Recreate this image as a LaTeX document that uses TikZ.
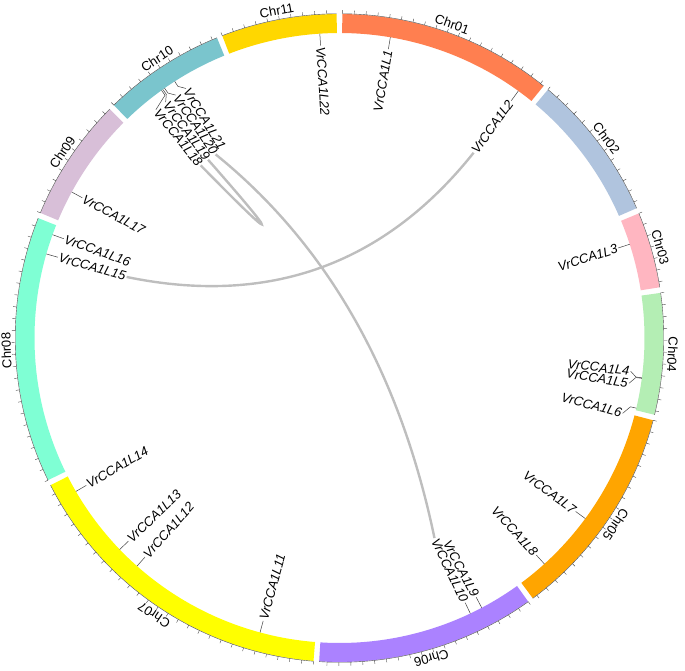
\documentclass[tikz,border=0pt]{standalone}
\usepackage{fontspec}
\setmainfont{Liberation Sans}
\usetikzlibrary{calc}
\definecolor{c01}{HTML}{FF7F50}
\definecolor{c02}{HTML}{B0C4DE}
\definecolor{c03}{HTML}{FFB6C1}
\definecolor{c04}{HTML}{B4EEB4}
\definecolor{c05}{HTML}{FFA500}
\definecolor{c06}{HTML}{AB82FF}
\definecolor{c07}{HTML}{FFFF00}
\definecolor{c08}{HTML}{7FFFD4}
\definecolor{c09}{HTML}{D8BFD8}
\definecolor{c10}{HTML}{7AC5CD}
\definecolor{c11}{HTML}{FFD700}
\definecolor{linkgray}{HTML}{BEBEBE}
\tikzset{
  chrlabel/.style={font=\fontsize{13}{15}\selectfont, inner sep=0pt, anchor=south},
  genelabel/.style={font=\fontsize{13}{15}\selectfont\itshape, inner sep=1pt},
  genetick/.style={draw=black!75, line width=0.5pt},
  ticks/.style={draw=black!70, line width=0.4pt},
  link/.style={draw=linkgray, line width=2.4pt},
}
\newcommand\chrom[5]{%
  \fill[#4] ({90-#2}:305pt) arc[start angle={90-#2}, end angle={90-#3}, radius=305pt]
    -- ({90-#3}:324pt) arc[start angle={90-#3}, end angle={90-#2}, radius=324pt] -- cycle;
  \draw[ticks] ({90-#2}:324.3pt) arc[start angle={90-#2}, end angle={90-#3}, radius=324.3pt];
  \pgfmathsetmacro\tnext{#2+2.1}
  \foreach \t in {#2,\tnext,...,#3} \draw[ticks] ({90-\t}:324.3pt) -- ({90-\t}:327.8pt);
  \pgfmathsetmacro\cmid{(#2+#3)/2}
  \node[chrlabel, rotate={-\cmid}] (#1) at ({90-\cmid}:328.5pt) {#5};
}
\newcommand\generight[4]{%
  \node[genelabel, anchor=east, rotate={90-#3}] (#1) at ({90-#3}:293pt) {#4};
  \coordinate (#1g) at ({90-#2}:305pt);
  \draw[genetick] (#1g) -- ({90-#2}:299pt) -- (#1.east);
}
\newcommand\geneleft[4]{%
  \node[genelabel, anchor=west, rotate={270-#3}] (#1) at ({90-#3}:293pt) {#4};
  \coordinate (#1g) at ({90-#2}:305pt);
  \draw[genetick] (#1g) -- ({90-#2}:299pt) -- (#1.west);
}
\begin{document}
\begin{tikzpicture}[x=1pt,y=1pt]
\useasboundingbox (-339.5,-332) rectangle (345.5,338);
\chrom{Chr01}{0.5}{39}{c01}{Chr01}
\chrom{Chr02}{40}{66.4}{c02}{Chr02}
\chrom{Chr03}{67.4}{81}{c03}{Chr03}
\chrom{Chr04}{82}{103.7}{c04}{Chr04}
\chrom{Chr05}{104.7}{143.4}{c05}{Chr05}
\chrom{Chr06}{144.4}{183.6}{c06}{Chr06}
\chrom{Chr07}{184.6}{243}{c07}{Chr07}
\chrom{Chr08}{244}{291.7}{c08}{Chr08}
\chrom{Chr09}{292.7}{314.9}{c09}{Chr09}
\chrom{Chr10}{315.9}{337.8}{c10}{Chr10}
\chrom{Chr11}{338.8}{359.5}{c11}{Chr11}
% genes
\generight{L1}{9.6}{9.6}{VrCCA1L1}
\generight{L2}{35.9}{35.9}{VrCCA1L2}
\generight{L3}{72.1}{72.1}{VrCCA1L3}
\generight{L4}{97.5}{96.5}{VrCCA1L4}
\generight{L5}{97.6}{98.9}{VrCCA1L5}
\generight{L6}{103.3}{104.9}{VrCCA1L6}
\generight{L7}{126.3}{126.3}{VrCCA1L7}
\generight{L8}{137.8}{137.8}{VrCCA1L8}
\generight{L9}{152.2}{152.2}{VrCCA1L9}
\generight{L10}{154.6}{154.6}{VrCCA1L10}
\geneleft{L11}{195.1}{195.1}{VrCCA1L11}
\geneleft{L12}{221.6}{221.6}{VrCCA1L12}
\geneleft{L13}{226.1}{226.1}{VrCCA1L13}
\geneleft{L14}{239.8}{239.8}{VrCCA1L14}
\geneleft{L15}{286.0}{286.0}{VrCCA1L15}
\geneleft{L16}{289.8}{289.8}{VrCCA1L16}
\geneleft{L17}{298.6}{298.6}{VrCCA1L17}
\geneleft{L18}{324.3}{321.2}{VrCCA1L18}
\geneleft{L19}{324.6}{323.6}{VrCCA1L19}
\geneleft{L20}{325.0}{326.0}{VrCCA1L20}
\geneleft{L21}{327.3}{328.4}{VrCCA1L21}
\geneleft{L22}{356.3}{356.3}{VrCCA1L22}
% links
\coordinate (cA) at (0,17);
\coordinate (cB) at (-20.5,52);
\coordinate (cC) at (43.1,48.5);
\draw[link] (L2.west) .. controls ($(L2.west)!0.667!(cA)$) and ($(L15.east)!0.667!(cA)$) .. (L15.east);
\draw[link] (L18.east) .. controls ($(L18.east)!0.667!(cB)$) and ($(L19.east)!0.667!(cB)$) .. (L19.east);
\draw[link] (L20.east) .. controls ($(L20.east)!0.667!(cC)$) and ($(L10.west)!0.667!(cC)$) .. (L10.west);
\end{tikzpicture}
\end{document}
